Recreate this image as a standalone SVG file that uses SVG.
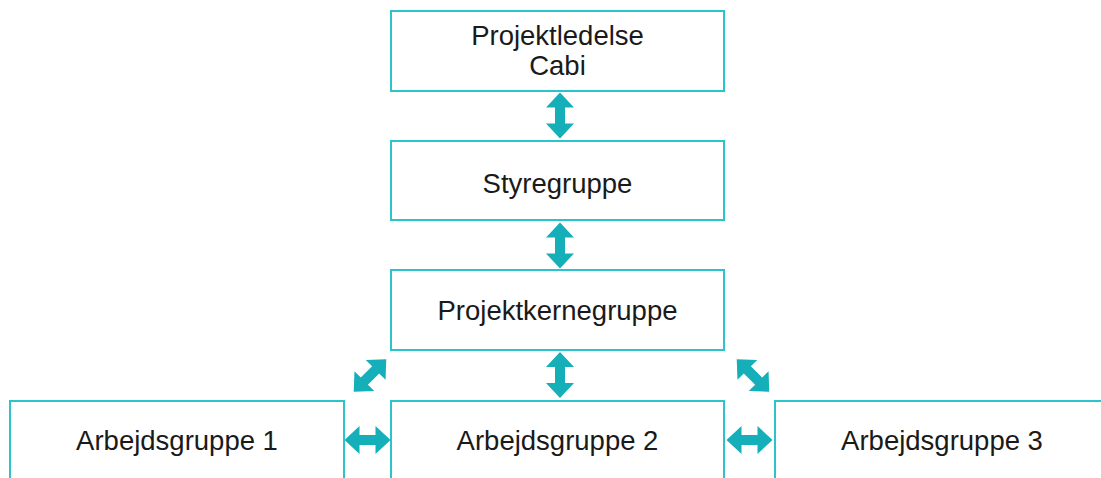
<svg xmlns="http://www.w3.org/2000/svg" xmlns:xlink="http://www.w3.org/1999/xlink" width="1101" height="478" viewBox="0 0 1101 478">
<style>
.box{fill:#ffffff;stroke:#2cc3cb;stroke-width:2}
.lbl{font-family:"Liberation Sans",Arial,sans-serif;font-size:27.5px;fill:#1a1a1a;text-anchor:middle}
.arr{fill:#15afb9}
</style>
<defs>
<path id="dbl" d="M-23 0 L-8 -14 L-8 -5 L8 -5 L8 -14 L23 0 L8 14 L8 5 L-8 5 L-8 14 Z"/>
</defs>
<rect width="1101" height="478" fill="#ffffff"/>
<g id="connectors" class="arr">
<use xlink:href="#dbl" transform="translate(560,115.5) rotate(90)"/>
<use xlink:href="#dbl" transform="translate(560,245.5) rotate(90)"/>
<use xlink:href="#dbl" transform="translate(560,375) rotate(90)"/>
<use xlink:href="#dbl" transform="translate(370,375.5) rotate(-45)"/>
<use xlink:href="#dbl" transform="translate(753,375.5) rotate(45)"/>
<use xlink:href="#dbl" transform="translate(367.5,440)"/>
<use xlink:href="#dbl" transform="translate(749.5,440)"/>
</g>
<g id="projektledelse">
<rect class="box" x="391" y="11" width="333" height="80"/>
<text class="lbl" x="557.5" y="45">Projektledelse</text>
<text class="lbl" x="557.5" y="75">Cabi</text>
</g>
<g id="styregruppe">
<rect class="box" x="391" y="141" width="333" height="79"/>
<text class="lbl" x="557.5" y="193">Styregruppe</text>
</g>
<g id="projektkernegruppe">
<rect class="box" x="391" y="270" width="333" height="80"/>
<text class="lbl" x="557.5" y="320">Projektkernegruppe</text>
</g>
<g id="arbejdsgruppe1">
<rect class="box" x="10" y="401" width="334" height="90"/>
<text class="lbl" x="177" y="450">Arbejdsgruppe 1</text>
</g>
<g id="arbejdsgruppe2">
<rect class="box" x="391" y="401" width="333" height="90"/>
<text class="lbl" x="557.5" y="450">Arbejdsgruppe 2</text>
</g>
<g id="arbejdsgruppe3">
<rect class="box" x="775" y="401" width="334" height="90"/>
<text class="lbl" x="942" y="450">Arbejdsgruppe 3</text>
</g>
</svg>
